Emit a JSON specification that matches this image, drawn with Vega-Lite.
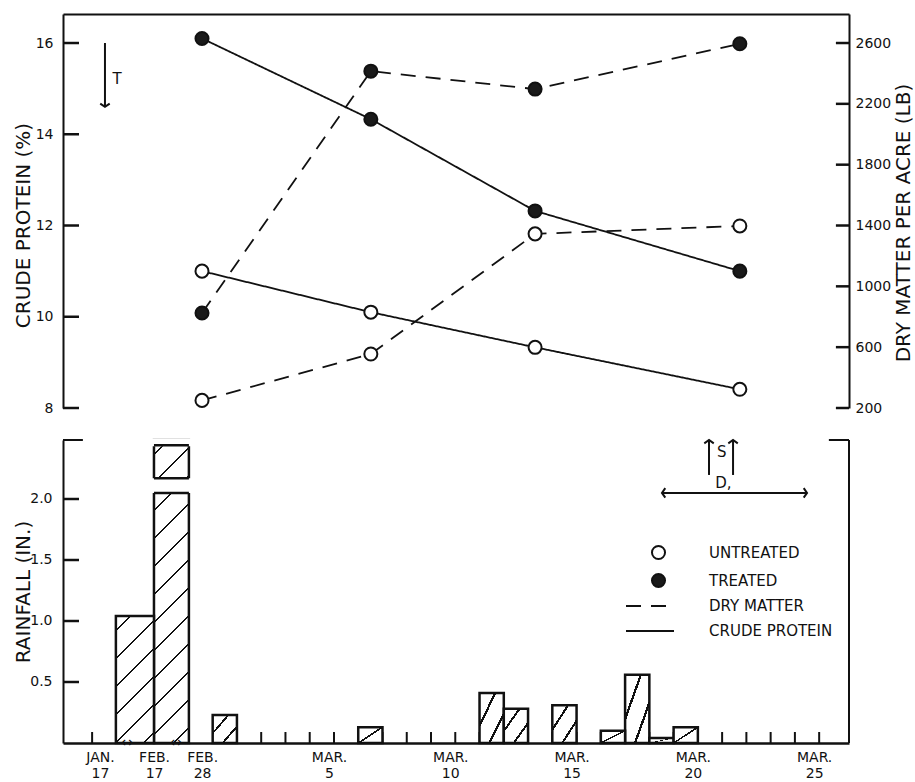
{
  "$schema": "https://vega.github.io/schema/vega-lite/v6.json",
  "background": "white",
  "padding": {"left": 13, "top": 14, "right": 0, "bottom": 0},
  "spacing": 21,
  "config": {
    "view": {"stroke": null},
    "font": "DejaVu Sans",
    "axis": {"grid": false, "labelFont": "DejaVu Sans", "titleFont": "DejaVu Sans", "labelFontSize": 14, "titleFontSize": 20, "titleFontWeight": "normal", "labelColor": "#111", "titleColor": "#111", "domainColor": "#111", "tickColor": "#111", "domainWidth": 2, "tickWidth": 2},
    "legend": {"labelFont": "DejaVu Sans", "labelFontSize": 15, "labelColor": "#111"},
    "text": {"font": "DejaVu Sans", "color": "#111"}
  },
  "datasets": {
    "forage": [
      {"date": "Feb 28", "pos": -0.44, "treatment": "UNTREATED", "cp": 11.0, "dm": 250},
      {"date": "Feb 28", "pos": -0.44, "treatment": "TREATED", "cp": 16.1, "dm": 825},
      {"date": "Mar 7", "pos": 6.52, "treatment": "UNTREATED", "cp": 10.1, "dm": 555},
      {"date": "Mar 7", "pos": 6.52, "treatment": "TREATED", "cp": 14.33, "dm": 2415},
      {"date": "Mar 13", "pos": 13.29, "treatment": "UNTREATED", "cp": 9.33, "dm": 1345},
      {"date": "Mar 13", "pos": 13.29, "treatment": "TREATED", "cp": 12.32, "dm": 2297},
      {"date": "Mar 22", "pos": 21.73, "treatment": "UNTREATED", "cp": 8.41, "dm": 1397},
      {"date": "Mar 22", "pos": 21.73, "treatment": "TREATED", "cp": 11.0, "dm": 2595}
    ],
    "rain": [
      {"period": "Jan 17 - Feb 17", "start": -3.99, "end": -2.42, "rain": 1.04},
      {"period": "Feb 17 - Feb 28", "start": -2.42, "end": -0.98, "rain": 4.4},
      {"period": "Mar 1", "start": 0, "end": 1, "rain": 0.23},
      {"period": "Mar 7", "start": 6, "end": 7, "rain": 0.13},
      {"period": "Mar 12", "start": 11, "end": 12, "rain": 0.41},
      {"period": "Mar 13", "start": 12, "end": 13, "rain": 0.28},
      {"period": "Mar 15", "start": 14, "end": 15, "rain": 0.31},
      {"period": "Mar 17", "start": 16, "end": 17, "rain": 0.10},
      {"period": "Mar 18", "start": 17, "end": 18, "rain": 0.56},
      {"period": "Mar 19", "start": 18, "end": 19, "rain": 0.04},
      {"period": "Mar 20", "start": 19, "end": 20, "rain": 0.13}
    ],
    "days": [
      {"v": -4.97}, {"v": 1}, {"v": 2}, {"v": 3}, {"v": 4}, {"v": 5}, {"v": 6}, {"v": 7}, {"v": 8}, {"v": 9}, {"v": 10},
      {"v": 11}, {"v": 12}, {"v": 13}, {"v": 14}, {"v": 15}, {"v": 16}, {"v": 17}, {"v": 18}, {"v": 19}, {"v": 20},
      {"v": 21}, {"v": 22}, {"v": 23}, {"v": 24}, {"v": 25}
    ]
  },
  "vconcat": [
    {
      "width": 786,
      "height": 394,
      "layer": [
        {
          "data": {"name": "forage"},
          "layer": [
            {
              "mark": {"type": "line", "color": "#111", "strokeWidth": 1.8},
              "encoding": {
                "x": {"field": "pos", "type": "quantitative", "scale": {"domain": [-6.17, 26.23], "nice": false, "zero": false}, "axis": {"orient": "top", "title": null, "labels": false, "ticks": false, "domainWidth": 2}},
                "y": {"field": "cp", "type": "quantitative", "scale": {"domain": [8, 16.636], "nice": false, "zero": false}, "axis": {"orient": "left", "title": "CRUDE PROTEIN (%)", "values": [8, 10, 12, 14, 16], "format": "d", "ticks": false, "labelPadding": 10, "minExtent": 28, "maxExtent": 28, "titlePadding": 1.5, "titleY": 211}},
                "detail": {"field": "treatment"},
                "strokeDash": {"datum": "CRUDE PROTEIN", "scale": {"domain": ["DRY MATTER", "CRUDE PROTEIN"], "range": [[15, 10], [1, 0]]}, "legend": {"title": null, "orient": "none", "legendX": 562, "legendY": 584.5, "symbolType": "stroke", "symbolSize": 2304, "symbolStrokeWidth": 2, "symbolStrokeColor": "#111", "clipHeight": 15, "labelOffset": 34, "rowPadding": 9, "labelFontSize": 15, "padding": 0}}
              }
            },
            {
              "mark": {"type": "circle", "size": 170, "stroke": "#111", "strokeWidth": 2, "opacity": 1},
              "encoding": {
                "x": {"field": "pos", "type": "quantitative"},
                "y": {"field": "cp", "type": "quantitative"},
                "fill": {"field": "treatment", "type": "nominal", "scale": {"domain": ["UNTREATED", "TREATED"], "range": ["white", "#1a1a1a"]}, "legend": {"title": null, "orient": "none", "legendX": 587.5, "legendY": 530.5, "symbolType": "circle", "symbolSize": 170, "symbolStrokeWidth": 2, "symbolStrokeColor": "#111", "labelOffset": 42.5, "rowPadding": 6, "labelFontSize": 15, "padding": 0}}
              }
            },
            {
              "data": {"values": [{"cp": 8}, {"cp": 10}, {"cp": 12}, {"cp": 14}, {"cp": 16}]},
              "mark": {"type": "rule", "color": "#111", "strokeWidth": 2.5},
              "encoding": {"x": {"datum": -6.17}, "x2": {"datum": -5.51}, "y": {"field": "cp", "type": "quantitative"}}
            },
            {
              "data": {"values": [{}]},
              "mark": {"type": "rule", "color": "#111", "strokeWidth": 2},
              "encoding": {"x": {"datum": -4.44}, "y": {"datum": 16.0}, "y2": {"datum": 14.6}}
            },
            {
              "data": {"values": [{}]},
              "mark": {"type": "point", "shape": "M-1,-0.7L0,0L1,-0.7", "filled": false, "size": 90, "stroke": "#111", "strokeWidth": 2, "opacity": 1},
              "encoding": {"x": {"datum": -4.44}, "y": {"datum": 14.6}}
            },
            {
              "data": {"values": [{}]},
              "mark": {"type": "text", "text": "T", "fontSize": 15, "align": "center", "baseline": "middle"},
              "encoding": {"x": {"datum": -3.94}, "y": {"datum": 15.21}}
            }
          ]
        },
        {
          "data": {"name": "forage"},
          "layer": [
            {
              "mark": {"type": "line", "color": "#111", "strokeWidth": 1.8},
              "encoding": {
                "x": {"field": "pos", "type": "quantitative"},
                "y": {"field": "dm", "type": "quantitative", "scale": {"domain": [200, 2790.8], "nice": false, "zero": false}, "axis": {"orient": "right", "title": "DRY MATTER PER ACRE (LB)", "values": [200, 600, 1000, 1400, 1800, 2200, 2600], "format": "d", "ticks": false, "labelPadding": 6, "minExtent": 43, "maxExtent": 43, "titlePadding": 1, "titleAngle": 270, "titleBaseline": "top", "titleY": 208.5}},
                "detail": {"field": "treatment"},
                "strokeDash": {"datum": "DRY MATTER"}
              }
            },
            {
              "mark": {"type": "circle", "size": 170, "stroke": "#111", "strokeWidth": 2, "opacity": 1},
              "encoding": {
                "x": {"field": "pos", "type": "quantitative"},
                "y": {"field": "dm", "type": "quantitative"},
                "fill": {"field": "treatment", "type": "nominal"}
              }
            },
            {
              "data": {"values": [{"dm": 200}, {"dm": 600}, {"dm": 1000}, {"dm": 1400}, {"dm": 1800}, {"dm": 2200}, {"dm": 2600}]},
              "mark": {"type": "rule", "color": "#111", "strokeWidth": 2.5},
              "encoding": {"x": {"datum": 25.69}, "x2": {"datum": 26.23}, "y": {"field": "dm", "type": "quantitative"}}
            }
          ]
        }
      ],
      "resolve": {"scale": {"y": "independent"}}
    },
    {
      "width": 786,
      "height": 303,
      "layer": [
        {
          "data": {"name": "days"},
          "mark": {"type": "rule", "color": "#111", "strokeWidth": 2},
          "encoding": {
            "x": {"field": "v", "type": "quantitative", "scale": {"domain": [-6.17, 26.23], "nice": false, "zero": false}, "axis": {"orient": "bottom", "title": null, "values": [-4.44, -2.21, -0.23, 5, 10, 15, 20, 25], "labelExpr": "datum.value < -4 ? ['JAN.', '17'] : datum.value < -1 ? ['FEB.', '17'] : datum.value < 1 ? ['FEB.', '28'] : ['MAR.', '' + datum.value]", "ticks": false, "domainWidth": 2.5, "labelOffset": -5, "labelPadding": 7, "labelFontSize": 14, "labelLineHeight": 16, "labelAlign": "center", "labelFlush": false, "labelOverlap": false, "labelBound": false}},
            "y": {"datum": 0, "type": "quantitative", "scale": {"domain": [0, 2.4836], "nice": false, "zero": false, "clamp": true}, "axis": {"orient": "left", "title": "RAINFALL (IN.)", "values": [0.5, 1, 1.5, 2], "format": ".1f", "ticks": false, "labelPadding": 11, "minExtent": 28, "maxExtent": 28, "titlePadding": 1.5}},
            "y2": {"datum": 0.09}
          }
        },
        {
          "data": {"values": [{"r": 0.5}, {"r": 1}, {"r": 1.5}, {"r": 2}]},
          "mark": {"type": "rule", "color": "#111", "strokeWidth": 2.5},
          "encoding": {"x": {"datum": -6.17}, "x2": {"datum": -5.51}, "y": {"field": "r", "type": "quantitative"}}
        },
        {
          "data": {"name": "rain"},
          "transform": [{"filter": "datum.rain > 2"}],
          "mark": {"type": "bar", "stroke": "#111", "strokeWidth": 2.5, "fill": {"gradient": "linear", "x1": 0, "y1": 0, "x2": 0.1272, "y2": 1.1008, "stops": [
            {"offset": 0, "color": "white"},
            {"offset": 0.04, "color": "white"}, {"offset": 0.04, "color": "#111"}, {"offset": 0.0474, "color": "#111"}, {"offset": 0.0474, "color": "white"},
            {"offset": 0.1228, "color": "white"}, {"offset": 0.1228, "color": "#111"}, {"offset": 0.1302, "color": "#111"}, {"offset": 0.1302, "color": "white"},
            {"offset": 0.2056, "color": "white"}, {"offset": 0.2056, "color": "#111"}, {"offset": 0.213, "color": "#111"}, {"offset": 0.213, "color": "white"},
            {"offset": 0.2884, "color": "white"}, {"offset": 0.2884, "color": "#111"}, {"offset": 0.2958, "color": "#111"}, {"offset": 0.2958, "color": "white"},
            {"offset": 0.3712, "color": "white"}, {"offset": 0.3712, "color": "#111"}, {"offset": 0.3786, "color": "#111"}, {"offset": 0.3786, "color": "white"},
            {"offset": 0.454, "color": "white"}, {"offset": 0.454, "color": "#111"}, {"offset": 0.4614, "color": "#111"}, {"offset": 0.4614, "color": "white"},
            {"offset": 0.5368, "color": "white"}, {"offset": 0.5368, "color": "#111"}, {"offset": 0.5442, "color": "#111"}, {"offset": 0.5442, "color": "white"},
            {"offset": 0.6196, "color": "white"}, {"offset": 0.6196, "color": "#111"}, {"offset": 0.627, "color": "#111"}, {"offset": 0.627, "color": "white"},
            {"offset": 0.7024, "color": "white"}, {"offset": 0.7024, "color": "#111"}, {"offset": 0.7098, "color": "#111"}, {"offset": 0.7098, "color": "white"},
            {"offset": 0.7852, "color": "white"}, {"offset": 0.7852, "color": "#111"}, {"offset": 0.7926, "color": "#111"}, {"offset": 0.7926, "color": "white"},
            {"offset": 0.868, "color": "white"}, {"offset": 0.868, "color": "#111"}, {"offset": 0.8754, "color": "#111"}, {"offset": 0.8754, "color": "white"},
            {"offset": 0.9508, "color": "white"}, {"offset": 0.9508, "color": "#111"}, {"offset": 0.9582, "color": "#111"}, {"offset": 0.9582, "color": "white"},
            {"offset": 1, "color": "white"}
          ]}},
          "encoding": {
            "x": {"field": "start", "type": "quantitative"},
            "x2": {"field": "end"},
            "y": {"field": "rain", "type": "quantitative"},
            "y2": {"datum": 0}
          }
        },
        {
          "data": {"name": "rain"},
          "transform": [{"filter": "datum.rain > 1 && datum.rain <= 2"}],
          "mark": {"type": "bar", "stroke": "#111", "strokeWidth": 2.5, "fill": {"gradient": "linear", "x1": 0, "y1": 0, "x2": 0.3576, "y2": 1.192, "stops": [
            {"offset": 0, "color": "white"},
            {"offset": 0.08, "color": "white"}, {"offset": 0.08, "color": "#111"}, {"offset": 0.0952, "color": "#111"}, {"offset": 0.0952, "color": "white"},
            {"offset": 0.2497, "color": "white"}, {"offset": 0.2497, "color": "#111"}, {"offset": 0.2649, "color": "#111"}, {"offset": 0.2649, "color": "white"},
            {"offset": 0.4194, "color": "white"}, {"offset": 0.4194, "color": "#111"}, {"offset": 0.4346, "color": "#111"}, {"offset": 0.4346, "color": "white"},
            {"offset": 0.5891, "color": "white"}, {"offset": 0.5891, "color": "#111"}, {"offset": 0.6043, "color": "#111"}, {"offset": 0.6043, "color": "white"},
            {"offset": 0.7588, "color": "white"}, {"offset": 0.7588, "color": "#111"}, {"offset": 0.774, "color": "#111"}, {"offset": 0.774, "color": "white"},
            {"offset": 0.9285, "color": "white"}, {"offset": 0.9285, "color": "#111"}, {"offset": 0.9437, "color": "#111"}, {"offset": 0.9437, "color": "white"},
            {"offset": 1, "color": "white"}
          ]}},
          "encoding": {
            "x": {"field": "start", "type": "quantitative"},
            "x2": {"field": "end"},
            "y": {"field": "rain", "type": "quantitative"},
            "y2": {"datum": 0}
          }
        },
        {
          "data": {"name": "rain"},
          "transform": [{"filter": "datum.rain >= 0.2 && datum.rain <= 1"}],
          "mark": {"type": "bar", "stroke": "#111", "strokeWidth": 2.5, "fill": {"gradient": "linear", "x1": 0, "y1": 0, "x2": 1, "y2": 1, "stops": [
            {"offset": 0, "color": "white"},
            {"offset": 0.3, "color": "white"}, {"offset": 0.3, "color": "#111"}, {"offset": 0.35, "color": "#111"}, {"offset": 0.35, "color": "white"},
            {"offset": 0.68, "color": "white"}, {"offset": 0.68, "color": "#111"}, {"offset": 0.73, "color": "#111"}, {"offset": 0.73, "color": "white"},
            {"offset": 1, "color": "white"}
          ]}},
          "encoding": {
            "x": {"field": "start", "type": "quantitative"},
            "x2": {"field": "end"},
            "y": {"field": "rain", "type": "quantitative"},
            "y2": {"datum": 0}
          }
        },
        {
          "data": {"name": "rain"},
          "transform": [{"filter": "datum.rain < 0.2"}],
          "mark": {"type": "bar", "stroke": "#111", "strokeWidth": 2.5, "fill": {"gradient": "linear", "x1": 0, "y1": 0, "x2": 1, "y2": 1, "stops": [
            {"offset": 0, "color": "white"},
            {"offset": 0.47, "color": "white"}, {"offset": 0.47, "color": "#111"}, {"offset": 0.53, "color": "#111"}, {"offset": 0.53, "color": "white"},
            {"offset": 1, "color": "white"}
          ]}},
          "encoding": {
            "x": {"field": "start", "type": "quantitative"},
            "x2": {"field": "end"},
            "y": {"field": "rain", "type": "quantitative"},
            "y2": {"datum": 0}
          }
        },
        {
          "data": {"values": [{"y": 2.062, "y2": 2.158}, {"y": 2.445, "y2": 2.53}]},
          "mark": {"type": "rect", "fill": "white", "stroke": "white", "strokeWidth": 3},
          "encoding": {"x": {"datum": -2.55}, "x2": {"datum": -0.85}, "y": {"field": "y", "type": "quantitative"}, "y2": {"field": "y2"}}
        },
        {
          "data": {"values": [{"y": 2.05}, {"y": 2.17}, {"y": 2.44}]},
          "mark": {"type": "rule", "color": "#111", "strokeWidth": 2.5},
          "encoding": {"x": {"datum": -2.42}, "x2": {"datum": -0.98}, "y": {"field": "y", "type": "quantitative"}}
        },
        {
          "data": {"values": [{}]},
          "mark": {"type": "rule", "color": "#111", "strokeWidth": 2},
          "encoding": {"x": {"datum": 26.23}, "y": {"datum": 0}, "y2": {"datum": 2.4836}}
        },
        {
          "data": {"values": [{}]},
          "mark": {"type": "rule", "color": "#111", "strokeWidth": 2},
          "encoding": {"x": {"datum": 25.4}, "x2": {"datum": 26.23}, "y": {"datum": 2.4836}}
        },
        {
          "data": {"values": [{}]},
          "mark": {"type": "rule", "color": "#111", "strokeWidth": 2},
          "encoding": {"x": {"datum": -6.17}, "x2": {"datum": -5.35}, "y": {"datum": 2.4836}}
        },
        {
          "data": {"values": [{"v": 20.46}, {"v": 21.45}]},
          "mark": {"type": "rule", "color": "#111", "strokeWidth": 2},
          "encoding": {"x": {"field": "v", "type": "quantitative"}, "y": {"datum": 2.197}, "y2": {"datum": 2.59}}
        },
        {
          "data": {"values": [{"v": 20.46}, {"v": 21.45}]},
          "mark": {"type": "point", "shape": "M-1,0.7L0,0L1,0.7", "filled": false, "size": 90, "stroke": "#111", "strokeWidth": 2, "opacity": 1},
          "encoding": {"x": {"field": "v", "type": "quantitative"}, "y": {"datum": 2.59}}
        },
        {
          "data": {"values": [{}]},
          "mark": {"type": "rule", "color": "#111", "strokeWidth": 2},
          "encoding": {"x": {"datum": 18.52}, "x2": {"datum": 24.5}, "y": {"datum": 2.05}}
        },
        {
          "data": {"values": [{}]},
          "mark": {"type": "point", "shape": "M0.7,-1L0,0L0.7,1", "filled": false, "size": 90, "stroke": "#111", "strokeWidth": 2, "opacity": 1},
          "encoding": {"x": {"datum": 18.52}, "y": {"datum": 2.05}}
        },
        {
          "data": {"values": [{}]},
          "mark": {"type": "point", "shape": "M-0.7,-1L0,0L-0.7,1", "filled": false, "size": 90, "stroke": "#111", "strokeWidth": 2, "opacity": 1},
          "encoding": {"x": {"datum": 24.5}, "y": {"datum": 2.05}}
        },
        {
          "data": {"values": [{"label": "S", "v": 20.99, "r": 2.385}, {"label": "D,", "v": 21.05, "r": 2.13}]},
          "mark": {"type": "text", "fontSize": 15, "align": "center", "baseline": "middle"},
          "encoding": {"x": {"field": "v", "type": "quantitative"}, "y": {"field": "r", "type": "quantitative"}, "text": {"field": "label"}}
        },
        {
          "data": {"values": [{"v": -3.53}, {"v": -1.51}]},
          "mark": {"type": "text", "text": "↔", "fontSize": 14, "align": "center", "baseline": "middle"},
          "encoding": {"x": {"field": "v", "type": "quantitative"}, "y": {"datum": -0.164}}
        }
      ]
    }
  ]
}
